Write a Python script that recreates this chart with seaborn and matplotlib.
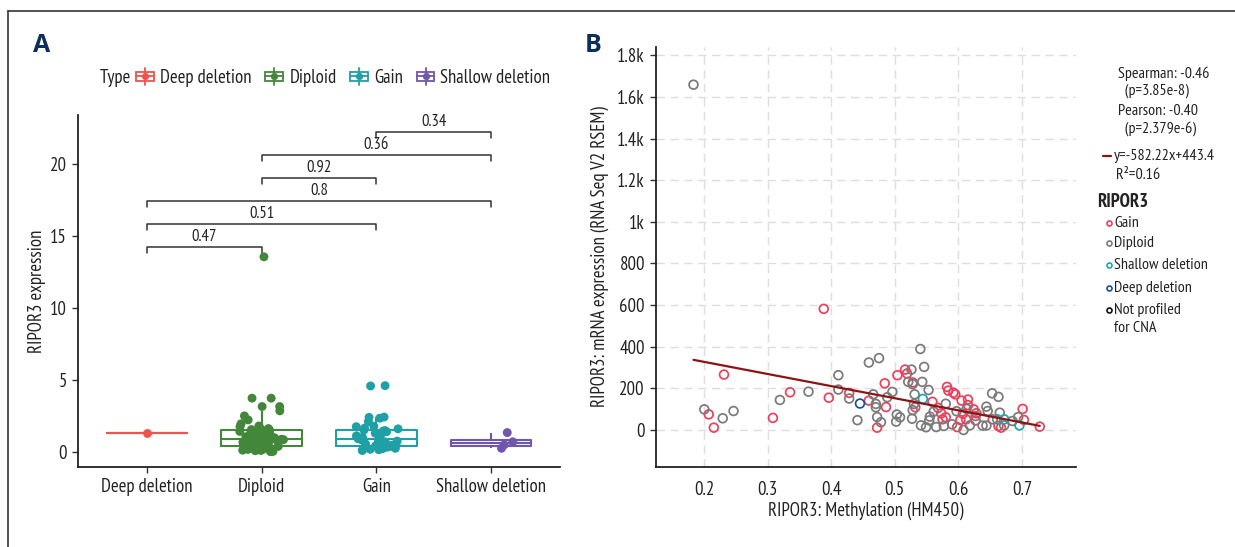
import numpy as np
import pandas as pd
import matplotlib
matplotlib.use("Agg")
import matplotlib.pyplot as plt
import seaborn as sns
from matplotlib import font_manager as fm
from matplotlib.lines import Line2D
from matplotlib.patches import Rectangle
from matplotlib.legend_handler import HandlerBase

sns.set_theme(style="white")
_installed = {f.name for f in fm.fontManager.ttflist}
_narrow = next((n for n in ["PT Sans Narrow", "Fira Sans Condensed", "Roboto Condensed",
                            "Open Sans Condensed", "Asap Condensed", "Archivo Narrow"]
                if n in _installed), "DejaVu Sans")
plt.rcParams['font.family'] = [_narrow, 'DejaVu Sans']
plt.rcParams['text.color'] = '#222222'
plt.rcParams['axes.labelcolor'] = '#222222'
plt.rcParams['xtick.color'] = '#222222'
plt.rcParams['ytick.color'] = '#222222'

# ---------------- Panel A data: expression by copy-number type ----------------
types = ["Deep deletion", "Diploid", "Gain", "Shallow deletion"]
type_colors = ["#f0524c", "#43873a", "#1f9fa6", "#7056ad"]

deep_expr = [1.34]
diploid_expr = [13.55, 3.73, 3.73, 3.15, 3.15, 2.85, 2.5, 2.22, 1.95, 1.8, 1.76,
                1.7, 1.62, 1.55, 1.5, 1.48, 1.42, 1.38, 1.3, 1.25, 1.2, 1.15, 1.1,
                1.05, 1.0, 0.98, 0.95, 0.92, 0.9, 0.88, 0.85, 0.8, 0.78, 0.75, 0.7,
                0.66, 0.62, 0.6, 0.55, 0.52, 0.5, 0.47, 0.45, 0.42, 0.4, 0.38, 0.35,
                0.3, 0.27, 0.25, 0.2, 0.18, 0.15, 0.12, 0.1, 0.08, 0.05, 0.03, 0.02]
gain_expr = [4.6, 4.58, 2.42, 2.4, 2.34, 2.1, 1.78, 1.75, 1.65, 1.6, 1.52, 1.48,
             1.45, 1.4, 1.3, 1.2, 1.12, 1.05, 1.0, 0.95, 0.92, 0.9, 0.88, 0.82,
             0.75, 0.7, 0.66, 0.6, 0.55, 0.5, 0.46, 0.43, 0.41, 0.38, 0.33, 0.3,
             0.25, 0.22, 0.18, 0.15, 0.12, 0.1]
shallow_expr = [0.25, 0.49, 0.70, 1.34]

comparisons = [("Deep deletion", "Diploid"), ("Deep deletion", "Gain"),
               ("Deep deletion", "Shallow deletion"), ("Diploid", "Gain"),
               ("Diploid", "Shallow deletion"), ("Gain", "Shallow deletion")]
p_labels = ["0.47", "0.51", "0.8", "0.92", "0.36", "0.34"]

# ---------------- Panel B data: methylation vs mRNA expression ----------------
meth = [0.183, 0.388, 0.200, 0.207, 0.215, 0.229, 0.246, 0.231, 0.308, 0.319,
        0.335, 0.364, 0.396, 0.411, 0.411, 0.428, 0.428, 0.441, 0.445, 0.459,
        0.459, 0.475, 0.466, 0.470, 0.470, 0.472, 0.472, 0.478, 0.484, 0.486,
        0.488, 0.496, 0.504, 0.503, 0.502, 0.508, 0.516, 0.519, 0.526, 0.521,
        0.528, 0.528, 0.531, 0.527, 0.528, 0.532, 0.530, 0.540, 0.546, 0.543,
        0.544, 0.553, 0.541, 0.549, 0.555, 0.554, 0.559, 0.561, 0.565, 0.568,
        0.573, 0.577, 0.575, 0.580, 0.580, 0.582, 0.584, 0.592, 0.595, 0.590,
        0.598, 0.597, 0.605, 0.607, 0.608, 0.603, 0.612, 0.613, 0.615, 0.615,
        0.618, 0.624, 0.627, 0.627, 0.628, 0.638, 0.644, 0.644, 0.646, 0.653,
        0.663, 0.654, 0.665, 0.661, 0.663, 0.667, 0.672, 0.672, 0.685, 0.694,
        0.696, 0.701, 0.703, 0.728]
mrna = [1659, 582, 99, 75, 11, 56, 91, 266, 58, 144,
        181, 184, 155, 263, 194, 178, 151, 47, 127, 141,
        324, 345, 171, 125, 109, 62, 11, 37, 224, 110,
        157, 183, 263, 74, 40, 61, 290, 271, 290, 231,
        228, 220, 171, 54, 95, 109, 125, 389, 303, 231,
        149, 192, 22, 13, 64, 46, 135, 88, 14, 106,
        80, 19, 51, 61, 126, 207, 189, 179, 171, 27,
        14, 90, 141, 78, 0, 48, 51, 101, 146, 119,
        22, 99, 67, 46, 80, 21, 21, 112, 91, 176,
        159, 51, 83, 51, 19, 11, 22, 51, 43, 62,
        22, 101, 48, 16]
cna = ["Diploid", "Gain", "Diploid", "Gain", "Gain", "Diploid", "Diploid", "Gain", "Gain", "Diploid",
       "Gain", "Diploid", "Gain", "Diploid", "Diploid", "Gain", "Diploid", "Diploid", "Deep deletion", "Gain",
       "Diploid", "Diploid", "Diploid", "Diploid", "Diploid", "Diploid", "Gain", "Diploid", "Gain", "Gain",
       "Diploid", "Diploid", "Gain", "Diploid", "Diploid", "Diploid", "Gain", "Gain", "Diploid", "Diploid",
       "Gain", "Diploid", "Diploid", "Diploid", "Diploid", "Gain", "Diploid", "Diploid", "Diploid", "Diploid",
       "Shallow deletion", "Diploid", "Diploid", "Diploid", "Diploid", "Diploid", "Gain", "Diploid", "Diploid", "Gain",
       "Gain", "Diploid", "Gain", "Gain", "Diploid", "Gain", "Gain", "Gain", "Gain", "Diploid",
       "Gain", "Diploid", "Gain", "Gain", "Diploid", "Gain", "Gain", "Diploid", "Gain", "Gain",
       "Diploid", "Gain", "Diploid", "Gain", "Gain", "Diploid", "Diploid", "Diploid", "Diploid", "Diploid",
       "Diploid", "Gain", "Diploid", "Shallow deletion", "Gain", "Gain", "Diploid", "Shallow deletion", "Diploid", "Diploid",
       "Shallow deletion", "Gain", "Gain", "Gain"]
cna_order = ["Gain", "Diploid", "Shallow deletion", "Deep deletion", "Not profiled\nfor CNA"]
cna_colors = ["#ee3f5a", "#7a7a7a", "#1fa5a8", "#1d4fa0", "#111111"]

fit_slope, fit_intercept = -582.22, 443.4
r_squared = 0.16
spearman_txt = "Spearman: -0.46\n  (p=3.85e-8)"
pearson_txt = "Pearson: -0.40\n  (p=2.379e-6)"


class BoxKeyHandler(HandlerBase):
    """Legend key drawn as a tiny box-and-whisker glyph with a centre dot."""

    def create_artists(self, legend, orig_handle, xdescent, ydescent, width, height,
                       fontsize, trans):
        c = orig_handle.get_color()
        cx = -xdescent + width / 2
        cy = -ydescent + height / 2
        bw, bh = width * 0.95, height * 0.62
        lw = 1.3
        rect = Rectangle((cx - bw / 2, cy - bh / 2), bw, bh, facecolor="white",
                         edgecolor=c, lw=lw, transform=trans)
        top = Line2D([cx, cx], [cy + bh / 2, cy + height * 0.68], color=c, lw=lw, transform=trans)
        bot = Line2D([cx, cx], [cy - bh / 2, cy - height * 0.68], color=c, lw=lw, transform=trans)
        med = Line2D([cx - bw / 2, cx + bw / 2], [cy, cy], color=c, lw=lw, transform=trans)
        dot = Line2D([cx], [cy], marker="o", markersize=4.2, color=c, linestyle="none",
                     transform=trans)
        return [rect, top, bot, med, dot]


# ---------------- Figure ----------------
W, H = 1235, 547
fig = plt.figure(figsize=(W / 100, H / 100), dpi=100)

def fx(px):
    return px / W

def fy(py):
    return 1 - py / H

# outer frame (top and left rules)
fig.add_artist(Line2D([fx(8), fx(8)], [fy(11), 0], transform=fig.transFigure, color="#333333", lw=1.2))
fig.add_artist(Line2D([fx(8), 1], [fy(11), fy(11)], transform=fig.transFigure, color="#333333", lw=1.2))

label_color = "#0e2f5c"
fig.text(fx(42), fy(46), "A", fontsize=18, fontweight="bold", color=label_color,
         ha="center", va="center", family=["Open Sans", "DejaVu Sans"])
fig.text(fx(593), fy(46), "B", fontsize=18, fontweight="bold", color=label_color,
         ha="center", va="center", family=["Open Sans", "DejaVu Sans"])

FS = 13.5      # axis text
FS_SMALL = 11.5

# ---------------- Panel A ----------------
axA = fig.add_axes([fx(78), fy(467), fx(560 - 78), (467 - 115) / H])
dfA = pd.DataFrame({
    "Type": (["Deep deletion"] * len(deep_expr) + ["Diploid"] * len(diploid_expr)
             + ["Gain"] * len(gain_expr) + ["Shallow deletion"] * len(shallow_expr)),
    "expr": deep_expr + diploid_expr + gain_expr + shallow_expr,
})
palA = dict(zip(types, type_colors))
sns.boxplot(data=dfA, x="Type", y="expr", hue="Type", order=types, hue_order=types,
            palette=palA, fill=False, width=0.7, showfliers=False, linewidth=1.5,
            whis=1.5, capprops=dict(linewidth=0), legend=False, ax=axA)
np.random.seed(3)
sns.stripplot(data=dfA, x="Type", y="expr", hue="Type", order=types, hue_order=types,
              palette=palA, jitter=0.2, size=6.4, linewidth=0, legend=False, ax=axA)

axA.set_xlim(-0.6, 3.6)
axA.set_ylim(-1.05, 23.4)
axA.set_yticks([0, 5, 10, 15, 20])
axA.set_xlabel("")
axA.set_ylabel("RIPOR3 expression", fontsize=FS, labelpad=3)
axA.tick_params(axis="both", labelsize=FS, length=4, width=1, color="#333333",
                direction="out", bottom=True, left=True, pad=4)
for s in ["top", "right"]:
    axA.spines[s].set_visible(False)
for s in ["left", "bottom"]:
    axA.spines[s].set_color("#222222")
    axA.spines[s].set_linewidth(1.3)

# significance brackets
ymax = max(dfA["expr"])
step = 1.6
tip = 0.45
for i, ((a, b), lab) in enumerate(zip(comparisons, p_labels)):
    xa, xb = types.index(a), types.index(b)
    yb = ymax + 0.7 + i * step
    axA.plot([xa, xa, xb, xb], [yb - tip, yb, yb, yb - tip], color="#333333", lw=1.1)
    axA.text((xa + xb) / 2, yb + 0.12, lab, ha="center", va="bottom", fontsize=FS_SMALL + 0.5)

# legend on top
handles = [Line2D([], [], color=c) for c in type_colors]
fig.text(fx(100), fy(78), "Type", fontsize=FS, ha="left", va="center")
fig.legend(handles, types, handler_map={Line2D: BoxKeyHandler()},
           loc="center left", bbox_to_anchor=(fx(136), fy(78)), ncol=4, frameon=False,
           fontsize=FS, handlelength=1.0, handletextpad=0.3, columnspacing=0.7,
           borderpad=0, borderaxespad=0)

# ---------------- Panel B ----------------
axB = fig.add_axes([fx(656), fy(467), fx(1076 - 656), (467 - 47) / H])
dfB = pd.DataFrame({"meth": meth, "mrna": mrna, "cna": cna})
palB = dict(zip(cna_order, cna_colors))
axB.set_axisbelow(True)
axB.grid(True, color="#dedede", lw=1.0, linestyle=(0, (6, 4)))
for grp in cna_order:
    sub = dfB[dfB["cna"] == grp]
    if sub.empty:
        continue
    n0 = len(axB.collections)
    sns.scatterplot(data=sub, x="meth", y="mrna", color=palB[grp], s=40, ax=axB,
                    legend=False, zorder=3)
    for coll in axB.collections[n0:]:
        coll.set_facecolor("none")
        coll.set_edgecolor(palB[grp])
        coll.set_linewidth(1.25)

xfit = np.array([min(meth), max(meth)])
sns.lineplot(x=xfit, y=fit_slope * xfit + fit_intercept, color="#8c1414", lw=1.6,
             ax=axB, zorder=4)

axB.set_xlim(0.124, 0.785)
axB.set_ylim(-178, 1840)
axB.set_xticks([0.2, 0.3, 0.4, 0.5, 0.6, 0.7])
axB.set_yticks([0, 200, 400, 600, 800, 1000, 1200, 1400, 1600, 1800])
axB.set_yticklabels(["0", "200", "400", "600", "800", "1k", "1.2k", "1.4k", "1.6k", "1.8k"])
axB.set_xlabel("RIPOR3: Methylation (HM450)", fontsize=FS, labelpad=2)
axB.set_ylabel("RIPOR3: mRNA expression (RNA Seq V2 RSEM)", fontsize=FS, labelpad=6)
axB.tick_params(axis="both", labelsize=FS, length=4, width=1, color="#333333",
                direction="out", bottom=False, left=True, pad=4)
axB.tick_params(axis="x", pad=6)
for s in ["top", "right"]:
    axB.spines[s].set_visible(False)
for s in ["left", "bottom"]:
    axB.spines[s].set_color("#222222")
    axB.spines[s].set_linewidth(1.3)

# statistics and group key on the right
fig.text(fx(1118), fy(82), spearman_txt, fontsize=FS_SMALL, ha="left", va="center", linespacing=1.2)
fig.text(fx(1118), fy(120), pearson_txt, fontsize=FS_SMALL, ha="left", va="center", linespacing=1.2)
fig.add_artist(Line2D([fx(1103), fx(1111)], [fy(156), fy(156)], transform=fig.transFigure,
                      color="#8c1414", lw=1.6))
fig.text(fx(1114), fy(156), f"y={fit_slope}x+{fit_intercept}", fontsize=FS_SMALL, ha="left", va="center")
fig.text(fx(1116), fy(175), f"R\u00b2={r_squared}", fontsize=FS_SMALL, ha="left", va="center")
fig.text(fx(1097), fy(202), "RIPOR3", fontsize=FS, fontweight="bold", ha="left", va="center")
key_y = [223, 243, 265, 288, 310]
for lab, col, yy in zip(cna_order, cna_colors, key_y):
    fig.add_artist(Line2D([fx(1109)], [fy(yy)], transform=fig.transFigure, marker="o",
                          markersize=3.6, markerfacecolor="none", markeredgecolor=col,
                          markeredgewidth=1.2, linestyle="none"))
    first, *rest = lab.split("\n")
    fig.text(fx(1114), fy(yy), first, fontsize=FS_SMALL, ha="left", va="center")
    for k, r in enumerate(rest):
        fig.text(fx(1114), fy(yy + 18 * (k + 1)), r, fontsize=FS_SMALL, ha="left", va="center")

fig.savefig("out.png", dpi=100)
